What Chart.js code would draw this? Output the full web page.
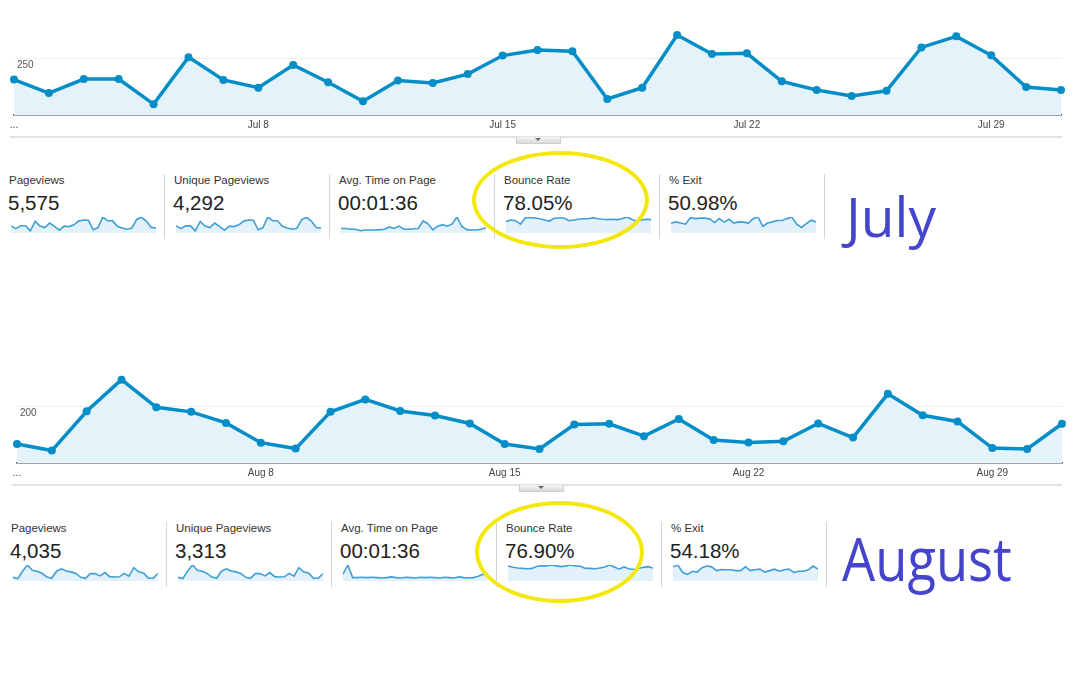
<!DOCTYPE html>
<html lang="en">
<head>
<meta charset="UTF-8">
<title>Pageviews July / August</title>
<script src="https://cdn.jsdelivr.net/npm/chart.js"></script>
<style>
  body { margin: 0; width: 1080px; height: 675px; background: #fff; position: relative; overflow: hidden;
         font-family: Arial, "Liberation Sans", sans-serif; }
  canvas { position: absolute; }
  .rule { position: absolute; height: 2px; background: #e2e2e2; }
  .tab { position: absolute; width: 43px; height: 6px; background: linear-gradient(#f6f6f6, #dadada);
         border: 1px solid #cfcfcf; border-top: none; }
  .tab:after { content: ''; position: absolute; left: 18px; top: 1px; border-left: 3px solid transparent;
               border-right: 3px solid transparent; border-top: 3px solid #666; }
  .name { position: absolute; font-size: 11.5px; line-height: 14px; color: #333; white-space: nowrap; }
  .val { position: absolute; font-size: 20.5px; line-height: 24px; color: #222; white-space: nowrap; }
  .sep { position: absolute; width: 1px; background: #d4d4d4; }
  .month { position: absolute; font-family: "Open Sans", sans-serif; color: #4444cc; line-height: 1;
           white-space: nowrap; transform-origin: left top; }
  .ring { position: absolute; border: 4px solid #f4e70c; border-radius: 50%; box-sizing: border-box; }
</style>
</head>
<body>
  <canvas id="julyChart" width="1080" height="135" style="left:0; top:-2px"></canvas>
  <div class="rule" style="left:10px; top:136px; width:1052px"></div>
  <div class="tab" style="left:516px; top:137px"></div>

  <canvas id="augustChart" width="1080" height="135" style="left:0; top:346px"></canvas>
  <div class="rule" style="left:12px; top:484px; width:1050px"></div>
  <div class="tab" style="left:519px; top:485px"></div>

  <div id="julyRow"></div>
  <div id="augustRow"></div>

  <div class="month" style="left:846px; top:188px; font-size:55px">July</div>
  <div class="month" style="left:842px; top:528px; font-size:60px; transform:scaleX(0.875)">August</div>

  <div class="ring" style="left:472px; top:151px; width:177px; height:98px"></div>
  <div class="ring" style="left:475px; top:501px; width:169px; height:102px"></div>

<script>
  // daily categories
  const julyDays = ['Jul 1', 'Jul 2', 'Jul 3', 'Jul 4', 'Jul 5', 'Jul 6', 'Jul 7', 'Jul 8', 'Jul 9', 'Jul 10',
    'Jul 11', 'Jul 12', 'Jul 13', 'Jul 14', 'Jul 15', 'Jul 16', 'Jul 17', 'Jul 18', 'Jul 19', 'Jul 20',
    'Jul 21', 'Jul 22', 'Jul 23', 'Jul 24', 'Jul 25', 'Jul 26', 'Jul 27', 'Jul 28', 'Jul 29', 'Jul 30', 'Jul 31'];
  const augustDays = ['Aug 1', 'Aug 2', 'Aug 3', 'Aug 4', 'Aug 5', 'Aug 6', 'Aug 7', 'Aug 8', 'Aug 9', 'Aug 10',
    'Aug 11', 'Aug 12', 'Aug 13', 'Aug 14', 'Aug 15', 'Aug 16', 'Aug 17', 'Aug 18', 'Aug 19', 'Aug 20',
    'Aug 21', 'Aug 22', 'Aug 23', 'Aug 24', 'Aug 25', 'Aug 26', 'Aug 27', 'Aug 28', 'Aug 29', 'Aug 30', 'Aug 31'];

  // shown every 7th day
  const julyTicks = ['...', 'Jul 8', 'Jul 15', 'Jul 22', 'Jul 29'];
  const augustTicks = ['...', 'Aug 8', 'Aug 15', 'Aug 22', 'Aug 29'];

  // pageviews per day
  const julyPageviews = [157, 97, 159, 159, 48, 256, 155, 121, 221, 145, 61, 153, 142, 181, 263, 288,
    282, 71, 121, 354, 270, 273, 149, 111, 84, 107, 299, 348, 264, 124, 111];
  const augustPageviews = [67, 44, 183, 295, 197, 181, 142, 72, 51, 181, 225, 184, 168, 140, 67, 50,
    136, 139, 95, 156, 81, 73, 77, 140, 90, 245, 169, 147, 53, 50, 139];

  // scorecard sparklines
  const julyUnique = [121, 75, 122, 122, 37, 197, 119, 93, 170, 112, 47, 118, 109, 139, 203, 222,
    217, 55, 93, 273, 208, 210, 115, 85, 65, 82, 230, 268, 203, 95, 85];
  const julyAvgTime = [82, 82, 68, 68, 41, 55, 55, 55, 61, 68, 109, 82, 123, 68, 68, 75,
    82, 219, 164, 55, 123, 150, 123, 164, 287, 116, 61, 55, 55, 68, 96];
  const julyBounce = [66, 74, 70, 50, 87, 87, 85, 81, 74, 68, 83, 85, 85, 70, 74, 78,
    81, 81, 87, 81, 78, 76, 78, 76, 81, 91, 78, 66, 74, 78, 76];
  const julyExit = [42, 48, 43, 38, 66, 62, 64, 64, 61, 45, 62, 47, 59, 43, 48, 47,
    43, 62, 69, 29, 43, 48, 54, 54, 62, 69, 38, 24, 40, 55, 48];

  const augustUnique = [55, 36, 150, 242, 162, 148, 116, 59, 42, 148, 185, 151, 138, 115, 55, 41,
    112, 114, 78, 128, 66, 60, 63, 115, 74, 201, 139, 121, 43, 41, 114];
  const augustAvgTime = [156, 367, 78, 78, 86, 78, 86, 78, 70, 78, 94, 78, 70, 86, 78, 70,
    86, 78, 86, 78, 70, 86, 78, 70, 94, 78, 70, 78, 109, 156, 133];
  const augustBounce = [84, 76, 72, 70, 68, 70, 82, 84, 84, 89, 84, 80, 84, 89, 84, 82,
    70, 70, 68, 72, 78, 89, 78, 66, 78, 68, 64, 70, 76, 80, 72];
  const augustExit = [68, 77, 41, 32, 47, 43, 64, 72, 68, 50, 55, 54, 54, 50, 50, 68,
    50, 54, 57, 43, 50, 57, 47, 54, 57, 41, 47, 47, 54, 72, 57];

  const metricNames = ['Pageviews', 'Unique Pageviews', 'Avg. Time on Page', 'Bounce Rate', '% Exit'];
  const julyTotals = ['5,575', '4,292', '00:01:36', '78.05%', '50.98%'];
  const augustTotals = ['4,035', '3,313', '00:01:36', '76.90%', '54.18%'];

  const blue = '#058dc7';

  function mainChart(id, labels, ticks, data, yMax, gridValue, padLeft, padRight) {
    new Chart(document.getElementById(id), {
      type: 'line',
      data: {
        labels: labels,
        datasets: [{
          data: data,
          borderColor: blue,
          borderWidth: 3.5,
          backgroundColor: '#e4f2fa',
          fill: 'origin',
          tension: 0,
          pointRadius: 4,
          pointBackgroundColor: blue,
          pointBorderWidth: 0
        }]
      },
      options: {
        responsive: false,
        animation: false,
        layout: { padding: { left: padLeft, right: padRight, top: 0, bottom: 0 } },
        plugins: { legend: { display: false }, tooltip: { enabled: false } },
        scales: {
          x: {
            offset: false,
            afterFit: (s) => { s.height = 18; },
            grid: { display: false, drawTicks: false },
            border: { color: '#4a4a4a', width: 1.5 },
            ticks: {
              autoSkip: false, maxRotation: 0, padding: 4,
              color: '#444', font: { family: 'Arial', size: 10 },
              callback: (v, i) => (i % 7 === 0 ? ticks[i / 7] : '')
            }
          },
          y: {
            min: 0, max: yMax,
            // no room taken by the axis: label sits inside the plot
            afterFit: (s) => { s.width = 0; s.paddingTop = 0; s.paddingBottom = 0; },
            border: { display: false },
            grid: { drawTicks: false, color: (c) => (c.tick && c.tick.value === gridValue ? '#eeeeee' : 'rgba(0,0,0,0)') },
            ticks: {
              stepSize: gridValue, mirror: true, padding: 3, labelOffset: 7,
              color: '#555', font: { family: 'Arial', size: 10 },
              callback: (v) => (v === gridValue ? String(v) : '')
            }
          }
        }
      }
    });
  }

  mainChart('julyChart', julyDays, julyTicks, julyPageviews, 500, 250, 14, 19);
  mainChart('augustChart', augustDays, augustTicks, augustPageviews, 400, 200, 17, 18);

  function sparkline(canvas, labels, data) {
    new Chart(canvas, {
      type: 'line',
      data: {
        labels: labels,
        datasets: [{
          data: data,
          borderColor: '#3f9fd6',
          borderWidth: 1.6,
          backgroundColor: '#e3f1fa',
          fill: 'origin',
          tension: 0,
          pointRadius: 0
        }]
      },
      options: {
        responsive: false,
        animation: false,
        layout: { padding: { top: 1, bottom: 0, left: 0, right: 0 } },
        plugins: { legend: { display: false }, tooltip: { enabled: false } },
        scales: {
          x: { display: false, offset: false },
          y: { display: false, min: 0, max: Math.max(...data) }
        }
      }
    });
  }

  function scoreRow(hostId, left, labelTop, totals, labels, series) {
    const host = document.getElementById(hostId);
    metricNames.forEach((name, i) => {
      const x = left + i * 165;
      const n = document.createElement('div');
      n.className = 'name';
      n.style.left = x + 'px';
      n.style.top = labelTop + 'px';
      n.textContent = name;
      host.appendChild(n);

      const v = document.createElement('div');
      v.className = 'val';
      v.style.left = (x - 1) + 'px';
      v.style.top = (labelTop + 18) + 'px';
      v.textContent = totals[i];
      host.appendChild(v);

      const c = document.createElement('canvas');
      c.width = 145;
      c.height = 17;
      c.style.left = (x + 2) + 'px';
      c.style.top = (labelTop + 43) + 'px';
      host.appendChild(c);
      sparkline(c, labels, series[i]);

      const s = document.createElement('div');
      s.className = 'sep';
      s.style.left = (x + 155) + 'px';
      s.style.top = (labelTop + 1) + 'px';
      s.style.height = '65px';
      host.appendChild(s);
    });
  }

  scoreRow('julyRow', 9, 173, julyTotals, julyDays,
    [julyPageviews, julyUnique, julyAvgTime, julyBounce, julyExit]);
  scoreRow('augustRow', 11, 521, augustTotals, augustDays,
    [augustPageviews, augustUnique, augustAvgTime, augustBounce, augustExit]);
</script>
</body>
</html>
